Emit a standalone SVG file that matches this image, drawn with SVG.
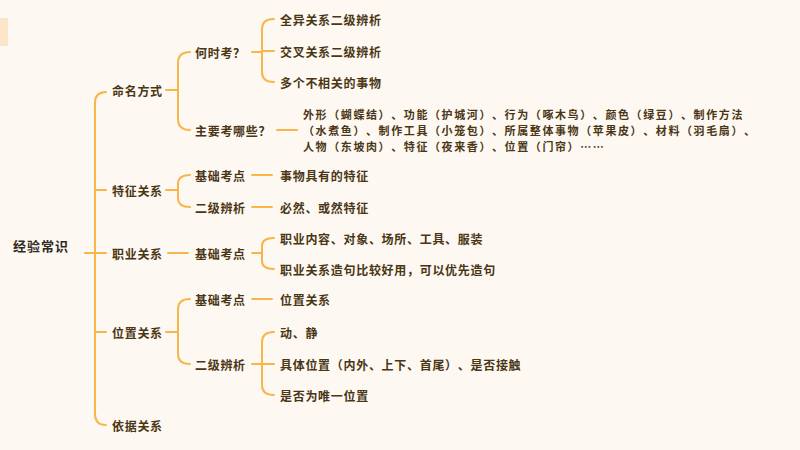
<svg xmlns="http://www.w3.org/2000/svg" width="800" height="450" viewBox="0 0 800 450">
<style>
.t{font-family:"Noto Sans CJK SC","Noto Sans",sans-serif;font-size:12px;font-weight:700;fill:#4a3614;letter-spacing:0.7px;dominant-baseline:central;text-spacing-trim:space-all}
.p{font-size:11px;letter-spacing:1.6px}
.root{font-family:"Noto Sans CJK SC","Noto Sans",sans-serif;font-size:13px;font-weight:700;fill:#2e2a24;letter-spacing:1px;dominant-baseline:central}
.c{fill:none;stroke:#f6b64a;stroke-width:2;stroke-linecap:round}
</style>
<rect width="800" height="450" fill="#fdf8f2"/>
<rect x="0" y="18" width="8" height="28" fill="#fde5cc"/>
<g id="connectors">
<path class="c" d="M85,253 H106"/>
<path class="c" d="M106,92 Q95,92 95,103 V414 Q95,425 106,425"/>
<path class="c" d="M95,190 H106 M95,332 H106"/>
<path class="c" d="M166,90 H178"/>
<path class="c" d="M190,52 Q178,52 178,63 V119 Q178,130 190,130"/>
<path class="c" d="M252,52 H262"/>
<path class="c" d="M274,19 Q262,19 262,29 V72 Q262,82 274,82 M262,51 H274"/>
<path class="c" d="M277,130 H297"/>
<path class="c" d="M166,190 H178"/>
<path class="c" d="M190,175 Q178,175 178,184 V198 Q178,207 190,207"/>
<path class="c" d="M252,175 H272 M252,207 H272"/>
<path class="c" d="M168,253 H188"/>
<path class="c" d="M252,253 H262"/>
<path class="c" d="M274,238 Q262,238 262,246 V261 Q262,269 274,269"/>
<path class="c" d="M166,332 H178"/>
<path class="c" d="M190,299 Q178,299 178,309 V354 Q178,364 190,364"/>
<path class="c" d="M252,299 H272"/>
<path class="c" d="M252,364 H262"/>
<path class="c" d="M274,332 Q262,332 262,342 V385 Q262,395 274,395 M262,364 H274"/>
</g>
<g id="root"><text class="root" x="13" y="245">经验常识</text></g>
<g id="n1"><text class="t" x="112" y="90">命名方式</text></g>
<g id="n1a"><text class="t" x="195" y="52">何时考？</text></g>
<g id="n1a1"><text class="t" x="280" y="19">全异关系二级辨析</text></g>
<g id="n1a2"><text class="t" x="280" y="51">交叉关系二级辨析</text></g>
<g id="n1a3"><text class="t" x="280" y="82">多个不相关的事物</text></g>
<g id="n1b"><text class="t" x="195" y="130">主要考哪些？</text></g>
<g id="n1b1">
<text class="t p" x="303" y="114">外形（蝴蝶结）、功能（护城河）、行为（啄木鸟）、颜色（绿豆）、制作方法</text>
<text class="t p" x="303" y="130">（水煮鱼）、制作工具（小笼包）、所属整体事物（苹果皮）、材料（羽毛扇）、</text>
<text class="t p" x="303" y="146">人物（东坡肉）、特征（夜来香）、位置（门帘）……</text>
</g>
<g id="n2"><text class="t" x="112" y="190">特征关系</text></g>
<g id="n2a"><text class="t" x="195" y="175">基础考点</text></g>
<g id="n2a1"><text class="t" x="280" y="175">事物具有的特征</text></g>
<g id="n2b"><text class="t" x="195" y="207">二级辨析</text></g>
<g id="n2b1"><text class="t" x="280" y="207">必然、或然特征</text></g>
<g id="n3"><text class="t" x="112" y="253">职业关系</text></g>
<g id="n3a"><text class="t" x="195" y="253">基础考点</text></g>
<g id="n3a1"><text class="t" x="280" y="238">职业内容、对象、场所、工具、服装</text></g>
<g id="n3a2"><text class="t" x="280" y="269">职业关系造句比较好用，可以优先造句</text></g>
<g id="n4"><text class="t" x="112" y="332">位置关系</text></g>
<g id="n4a"><text class="t" x="195" y="299">基础考点</text></g>
<g id="n4a1"><text class="t" x="280" y="299">位置关系</text></g>
<g id="n4b"><text class="t" x="195" y="364">二级辨析</text></g>
<g id="n4b1"><text class="t" x="280" y="332">动、静</text></g>
<g id="n4b2"><text class="t" x="280" y="364">具体位置（内外、上下、首尾）、是否接触</text></g>
<g id="n4b3"><text class="t" x="280" y="395">是否为唯一位置</text></g>
<g id="n5"><text class="t" x="112" y="425">依据关系</text></g>
</svg>
